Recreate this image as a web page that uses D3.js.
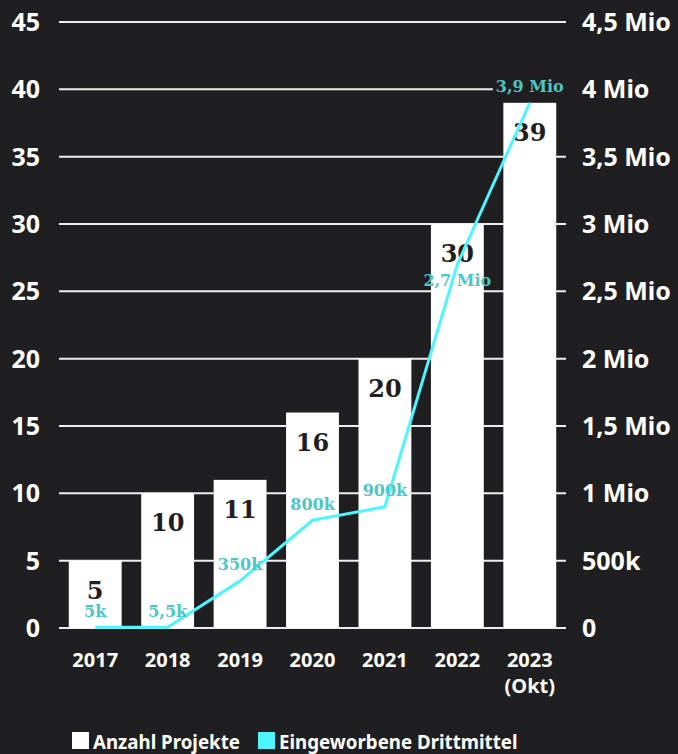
<!DOCTYPE html>
<html>
<head>
<meta charset="utf-8">
<script src="https://d3js.org/d3.v7.min.js"></script>
<style>
  body {
    margin: 0;
    background: #1f1f21;
  }
  svg {
    display: block;
  }
  .tick-label {
    font-family: "Noto Sans", sans-serif;
    font-weight: bold;
    fill: #ffffff;
  }
  .bar-label {
    font-family: "DejaVu Serif", serif;
    font-weight: bold;
    font-size: 24px;
    fill: #1f1f21;
  }
  .money-label {
    font-family: "DejaVu Serif", serif;
    font-weight: bold;
    font-size: 16px;
    fill: #4cc6c8;
  }
  .legend-text {
    font-family: "Noto Sans", sans-serif;
    font-weight: bold;
    font-size: 18.7px;
    fill: #ffffff;
  }
</style>
</head>
<body>
<svg width="678" height="754"></svg>
<script>
// Projekte (Balken) und Drittmittel in Mio (Linie)
var years = ["2017", "2018", "2019", "2020", "2021", "2022", "2023"];
var yearSub = ["", "", "", "", "", "", "(Okt)"];
var projects = [5, 10, 11, 16, 20, 30, 39];
var funds = [0.005, 0.0055, 0.35, 0.8, 0.9, 2.7, 3.9];
var fundLabels = ["5k", "5,5k", "350k", "800k", "900k", "2,7 Mio", "3,9 Mio"];

var leftTicks = [0, 5, 10, 15, 20, 25, 30, 35, 40, 45];
var rightTicks = [0, 0.5, 1, 1.5, 2, 2.5, 3, 3.5, 4, 4.5];
var rightTickLabels = ["0", "500k", "1 Mio", "1,5 Mio", "2 Mio", "2,5 Mio", "3 Mio", "3,5 Mio", "4 Mio", "4,5 Mio"];

var svg = d3.select("svg"),
    plotLeft = 59, plotRight = 566, plotTop = 22, plotBottom = 628;

var bg = "#1f1f21";
var lineColor = "#4cf5ff";

var x = d3.scaleBand()
    .domain(years)
    .range([plotLeft, plotRight])
    .paddingInner(0.27)
    .paddingOuter(0.135);

var y = d3.scaleLinear()
    .domain([0, 45])
    .range([plotBottom, plotTop]);

var y2 = d3.scaleLinear()
    .domain([0, 4.5])
    .range([plotBottom, plotTop]);

var cx = function(i) { return x(years[i]) + x.bandwidth() / 2; };

// grid
svg.append("g")
    .selectAll("line")
    .data(leftTicks)
  .enter().append("line")
    .attr("x1", plotLeft)
    .attr("x2", plotRight)
    .attr("y1", function(d) { return y(d); })
    .attr("y2", function(d) { return y(d); })
    .attr("stroke", "#eeeeee")
    .attr("stroke-width", 2);

// left axis labels
svg.append("g")
    .selectAll("text")
    .data(leftTicks)
  .enter().append("text")
    .attr("class", "tick-label")
    .attr("x", 40)
    .attr("y", function(d) { return y(d); })
    .attr("dy", "0.36em")
    .attr("text-anchor", "end")
    .style("font-size", "25px")
    .text(function(d) { return d; });

// right axis labels
svg.append("g")
    .selectAll("text")
    .data(rightTicks)
  .enter().append("text")
    .attr("class", "tick-label")
    .attr("x", 582)
    .attr("y", function(d) { return y2(d); })
    .attr("dy", "0.36em")
    .style("font-size", "25px")
    .text(function(d, i) { return rightTickLabels[i]; });

// bars
svg.append("g")
    .selectAll("rect")
    .data(projects)
  .enter().append("rect")
    .attr("x", function(d, i) { return x(years[i]); })
    .attr("y", function(d) { return y(d); })
    .attr("width", x.bandwidth())
    .attr("height", function(d) { return y(0) - y(d); })
    .attr("fill", "#ffffff");

svg.append("g")
    .selectAll("text")
    .data(projects)
  .enter().append("text")
    .attr("class", "bar-label")
    .attr("x", function(d, i) { return cx(i); })
    .attr("y", function(d) { return y(d) + 38; })
    .attr("text-anchor", "middle")
    .text(function(d) { return d; });

// x labels
var xl = svg.append("g")
    .selectAll("text")
    .data(years)
  .enter().append("text")
    .attr("class", "tick-label")
    .attr("x", function(d, i) { return cx(i); })
    .attr("y", 667)
    .attr("text-anchor", "middle")
    .style("font-size", "20px");

xl.append("tspan")
    .attr("x", function(d, i) { return cx(i); })
    .text(function(d) { return d; });
xl.append("tspan")
    .attr("x", function(d, i) { return cx(i); })
    .attr("dy", 26)
    .text(function(d, i) { return yearSub[i]; });

// funds line
var line = d3.line()
    .x(function(d, i) { return cx(i); })
    .y(function(d) { return y2(d); });

svg.append("path")
    .datum(funds)
    .attr("d", line)
    .attr("fill", "none")
    .attr("stroke", lineColor)
    .attr("stroke-width", 3)
    .attr("stroke-linejoin", "round");

// money labels: above the point unless that hits the bar value;
// labels sitting on the dark background get a backing box over the grid
var ml = svg.append("g")
    .selectAll("g")
    .data(funds)
  .enter().append("g");

ml.append("text")
    .attr("class", "money-label")
    .attr("x", function(d, i) { return cx(i); })
    .attr("y", function(d, i) {
      var above = y2(d) - 16;
      var barLabel = y(projects[i]) + 29;
      return (Math.abs(above - barLabel) < 18 ? y2(d) + 16 : above);
    })
    .attr("dy", "0.35em")
    .attr("text-anchor", "middle")
    .text(function(d, i) { return fundLabels[i]; });

ml.each(function(d, i) {
  if (y2(d) - 16 >= y(projects[i])) return;
  var g = d3.select(this);
  var b = g.select("text").node().getBBox();
  g.insert("rect", "text")
      .attr("x", b.x - 3)
      .attr("y", b.y)
      .attr("width", b.width + 6)
      .attr("height", b.height)
      .attr("fill", bg);
});

// legend
var legend = [
  {name: "Anzahl Projekte", color: "#ffffff", x: 72},
  {name: "Eingeworbene Drittmittel", color: lineColor, x: 258}
];
var lg = svg.append("g")
    .selectAll("g")
    .data(legend)
  .enter().append("g");
lg.append("rect")
    .attr("x", function(d) { return d.x; })
    .attr("y", 732)
    .attr("width", 17)
    .attr("height", 17)
    .attr("fill", function(d) { return d.color; });
lg.append("text")
    .attr("class", "legend-text")
    .attr("x", function(d) { return d.x + 21; })
    .attr("y", 749)
    .text(function(d) { return d.name; });
</script>
</body>
</html>
